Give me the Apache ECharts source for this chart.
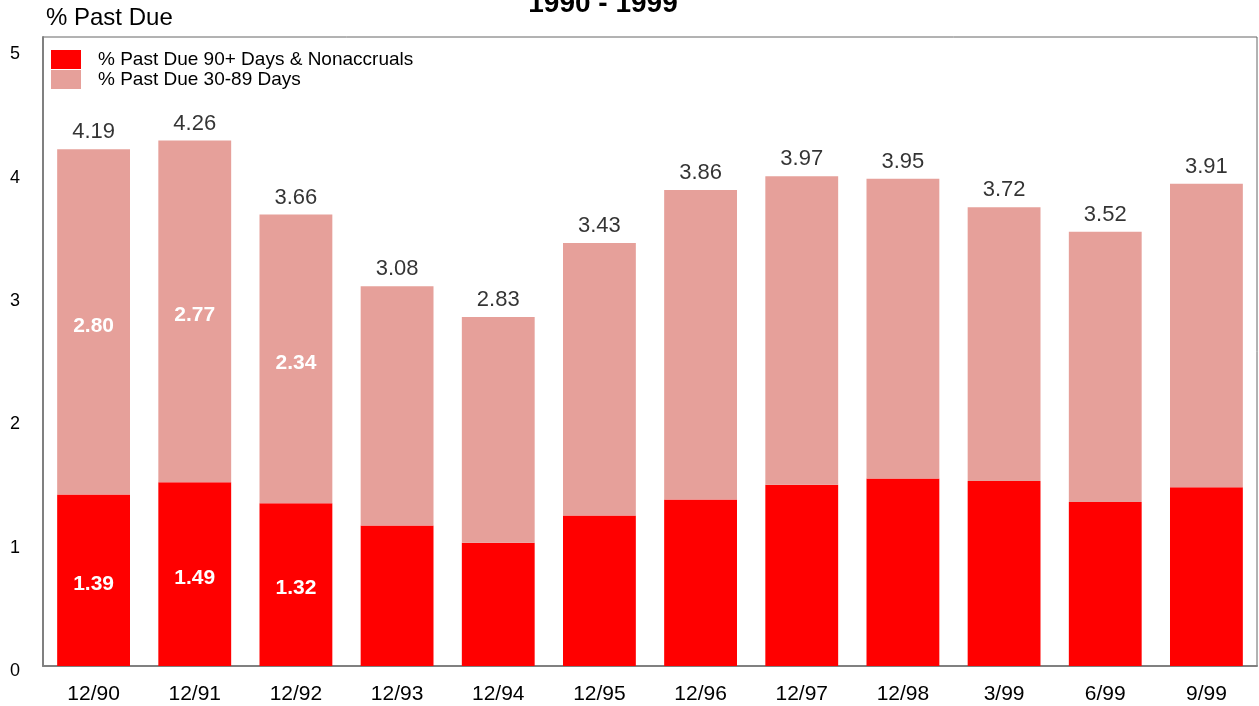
<!DOCTYPE html>
<html>
<head>
<meta charset="utf-8">
<script src="https://cdn.jsdelivr.net/npm/echarts@6/dist/echarts.min.js"></script>
<style>
  html, body { margin: 0; padding: 0; background: #fff; }
  #chart { width: 1259px; height: 706px; }
</style>
</head>
<body>
<div id="chart"></div>
<script>
// Quarter-end reporting dates
const categories = ['12/90', '12/91', '12/92', '12/93', '12/94', '12/95', '12/96', '12/97', '12/98', '3/99', '6/99', '9/99'];
// % past due 90+ days & nonaccruals
const pastDue90 = [1.39, 1.49, 1.32, 1.14, 1.00, 1.22, 1.35, 1.47, 1.52, 1.50, 1.33, 1.45];
// total % past due (30-89 plus 90+)
const totalPastDue = [4.19, 4.26, 3.66, 3.08, 2.83, 3.43, 3.86, 3.97, 3.95, 3.72, 3.52, 3.91];
// % past due 30-89 days = total minus 90+
const pastDue30 = totalPastDue.map((t, i) => +(t - pastDue90[i]).toFixed(2));
// bars whose segments carry an inside value label
const labelledBars = 3;
const yTicks = [0, 1, 2, 3, 4, 5];

const FONT = '"Liberation Sans", Arial, sans-serif';
const RED = '#FF0000';
const PINK = '#E6A09A';

const insideLabel = {
  show: true,
  position: 'inside',
  color: '#fff',
  fontFamily: FONT,
  fontSize: 21,
  fontWeight: 'bold',
  offset: [0, 4],
  formatter: p => p.dataIndex < labelledBars ? p.value.toFixed(2) : ''
};

const chart = echarts.init(document.getElementById('chart'), null, { renderer: 'canvas' });
chart.setOption({
  animation: false,
  backgroundColor: '#fff',
  textStyle: { fontFamily: FONT },
  title: [
    {
      text: '1990 - 1999',
      left: 598, top: -15,
      textAlign: 'center',
      textStyle: { fontFamily: FONT, fontSize: 28, fontWeight: 'bold', color: '#000' }
    },
    {
      text: '% Past Due',
      left: 41, top: 1,
      textStyle: { fontFamily: FONT, fontSize: 24, fontWeight: 'normal', color: '#000' }
    }
  ],
  legend: {
    data: ['% Past Due 90+ Days & Nonaccruals', '% Past Due 30-89 Days'],
    orient: 'vertical',
    left: 51, top: 50,
    itemWidth: 30, itemHeight: 19, itemGap: 1,
    icon: 'rect',
    padding: 0,
    selectedMode: false,
    textStyle: { fontFamily: FONT, fontSize: 19, color: '#000', lineHeight: 12, padding: [0, 0, 0, 12] }
  },
  grid: {
    left: 43, right: 2, top: 37, bottom: 40,
    show: true, borderColor: '#666', borderWidth: 1, backgroundColor: 'transparent'
  },
  xAxis: {
    type: 'category',
    data: categories,
    axisLine: { lineStyle: { color: '#808080', width: 2 } },
    axisTick: { show: false },
    axisLabel: { color: '#000', fontFamily: FONT, fontSize: 21, margin: 18 }
  },
  yAxis: {
    type: 'value',
    min: yTicks[0], max: 5.1, interval: 1,
    axisLine: { show: true, lineStyle: { color: '#808080', width: 2 } },
    axisTick: { show: false },
    splitLine: { show: false },
    axisLabel: {
      color: '#000', fontFamily: FONT, fontSize: 18, margin: 23,
      verticalAlign: 'top', lineHeight: 10,
      showMaxLabel: false,
      formatter: v => yTicks.includes(v) ? String(v) : ''
    }
  },
  series: [
    {
      name: '% Past Due 90+ Days & Nonaccruals',
      type: 'bar',
      stack: 'due',
      barWidth: '72%',
      data: pastDue90,
      itemStyle: { color: RED },
      label: insideLabel,
      silent: true
    },
    {
      name: '% Past Due 30-89 Days',
      type: 'bar',
      stack: 'due',
      barWidth: '72%',
      data: pastDue30,
      itemStyle: { color: PINK },
      label: insideLabel,
      silent: true
    },
    {
      name: 'Total',
      type: 'scatter',
      data: totalPastDue,
      symbolSize: 0,
      silent: true,
      label: {
        show: true,
        position: 'top',
        distance: 6,
        color: '#000',
        fontFamily: FONT,
        fontSize: 22,
        formatter: p => p.value.toFixed(2)
      }
    }
  ]
});
</script>
</body>
</html>
